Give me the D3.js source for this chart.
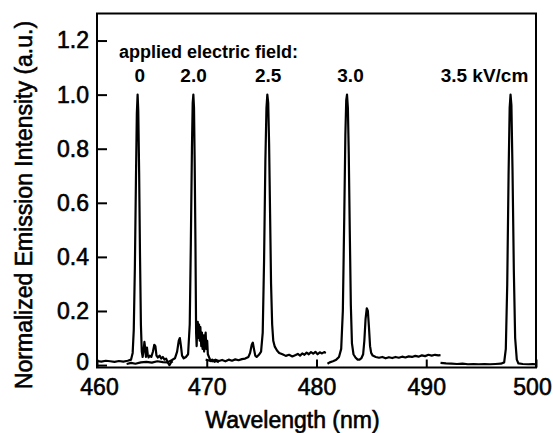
<!DOCTYPE html>
<html>
<head>
<meta charset="utf-8">
<script src="https://cdn.jsdelivr.net/npm/d3@7"></script>
<style>
  html, body { margin: 0; padding: 0; background: #fff; }
  svg { display: block; font-family: "Liberation Sans", Arial, sans-serif; }
  .heavy { stroke: #000; stroke-width: 0.6px; paint-order: stroke; }
</style>
</head>
<body>
<svg id="chart" width="553" height="433"></svg>
<script>
// Emission spectra, normalized, for each applied electric field (kV/cm).
// Each record is [wavelength (nm), normalized intensity].
const spectrum0 = [
  [460.0,0.015],[460.4,0.013],[460.8,0.016],[461.2,0.014],[461.6,0.012],[462.0,0.015],
  [462.4,0.013],[462.8,0.016],[463.1,0.02],[463.25,0.045],[463.35,0.13],[463.45,0.36],
  [463.55,0.69],[463.63,0.93],[463.7,1.0],[463.76,0.94],[463.84,0.71],[463.92,0.4],
  [464.0,0.15],[464.08,0.05],[464.16,0.03],[464.25,0.055],[464.32,0.086],[464.4,0.06],
  [464.46,0.03],[464.55,0.065],[464.62,0.04],[464.7,0.028],[464.8,0.035],[464.95,0.03],
  [465.1,0.05],[465.22,0.075],[465.32,0.07],[465.42,0.035],[465.55,0.028],[465.7,0.035],
  [465.85,0.024],[466.0,0.03],[466.15,0.02],[466.3,0.024],[466.45,0.01],[466.6,0.0],
  [466.75,0.01],[466.9,0.014]
];
const spectrum20 = [
  [462.7,0.004],[463.1,0.008],[463.5,0.005],[464.0,0.01],[464.5,0.012],[465.0,0.009],
  [465.5,0.014],[466.0,0.011],[466.4,0.01],[466.8,0.018],[467.1,0.025],[467.3,0.05],
  [467.45,0.09],[467.55,0.1],[467.65,0.07],[467.75,0.035],[467.9,0.025],[468.1,0.03],
  [468.3,0.04],[468.45,0.15],[468.55,0.45],[468.65,0.8],[468.72,0.97],[468.78,1.0],
  [468.84,0.95],[468.9,0.75],[468.97,0.45],[469.03,0.12],[469.08,0.07],[469.12,0.13],
  [469.18,0.16],[469.24,0.1],[469.3,0.15],[469.36,0.09],[469.42,0.14],[469.5,0.07],
  [469.56,0.12],[469.62,0.06],[469.7,0.11],[469.76,0.05],[469.84,0.1],[469.9,0.12],
  [469.96,0.06],[470.04,0.09],[470.1,0.04],[470.2,0.03],[470.35,0.015],[470.5,0.02],
  [470.7,0.012],[470.9,0.015],[471.1,0.01]
];
const spectrum25 = [
  [469.9,0.02],[470.2,0.017],[470.5,0.014],[470.8,0.02],[471.1,0.015],[471.4,0.019],
  [471.7,0.014],[472.0,0.02],[472.3,0.016],[472.6,0.021],[472.9,0.018],[473.2,0.022],
  [473.5,0.024],[473.8,0.03],[473.95,0.045],[474.1,0.075],[474.2,0.083],[474.3,0.06],
  [474.42,0.035],[474.55,0.03],[474.75,0.038],[474.95,0.05],[475.1,0.12],[475.22,0.38],
  [475.34,0.75],[475.44,0.95],[475.52,1.0],[475.6,0.97],[475.68,0.82],[475.77,0.56],
  [475.86,0.3],[475.96,0.15],[476.06,0.09],[476.2,0.068],[476.4,0.054],[476.6,0.045],
  [476.9,0.04],[477.2,0.034],[477.5,0.038],[477.8,0.032],[478.1,0.037],[478.3,0.041],
  [478.5,0.035],[478.7,0.043],[478.9,0.038],[479.1,0.046],[479.3,0.04],[479.5,0.048],
  [479.7,0.042],[479.9,0.049],[480.1,0.04],[480.3,0.047],[480.5,0.043],[480.7,0.048],
  [480.85,0.045]
];
const spectrum30 = [
  [481.0,0.005],[481.2,0.01],[481.5,0.014],[481.8,0.02],[482.05,0.03],[482.25,0.06],
  [482.4,0.2],[482.53,0.55],[482.63,0.85],[482.71,0.98],[482.78,1.0],[482.86,0.95],
  [482.94,0.78],[483.03,0.5],[483.13,0.22],[483.23,0.08],[483.37,0.04],[483.55,0.028],
  [483.75,0.02],[483.92,0.02],[484.1,0.026],[484.25,0.04],[484.36,0.09],[484.47,0.17],
  [484.58,0.21],[484.68,0.2],[484.78,0.14],[484.88,0.07],[484.98,0.045],[485.12,0.035],
  [485.4,0.03],[485.7,0.027],[486.0,0.03],[486.3,0.025],[486.6,0.029],[486.9,0.026],
  [487.2,0.03],[487.5,0.027],[487.8,0.031],[488.1,0.028],[488.4,0.032],[488.7,0.03],
  [489.0,0.034],[489.3,0.031],[489.6,0.036],[489.9,0.033],[490.2,0.038],[490.5,0.035],
  [490.8,0.038],[491.1,0.036],[491.3,0.037]
];
const spectrum35 = [
  [491.3,0.008],[491.8,0.006],[492.3,0.005],[492.8,0.004],[493.3,0.005],[493.8,0.003],
  [494.3,0.004],[494.8,0.003],[495.3,0.004],[495.8,0.003],[496.3,0.004],[496.8,0.005],
  [497.1,0.01],[497.25,0.06],[497.38,0.3],[497.5,0.7],[497.6,0.95],[497.68,1.0],
  [497.76,0.96],[497.86,0.72],[497.98,0.35],[498.1,0.1],[498.25,0.02],[498.4,0.006],
  [498.8,0.004],[499.3,0.003],[499.7,0.004],[500.0,0.003]
];
const spectra = [spectrum0, spectrum20, spectrum25, spectrum30, spectrum35];

// Field labels and where they sit along the wavelength axis
const fieldLabels = ["0", "2.0", "2.5", "3.0"];
const fieldLabelX = [463.9, 468.8, 475.6, 483.1];
const lastFieldLabel = "3.5 kV/cm";
const lastFieldLabelEnd = 499.3;
const annotationTitle = "applied electric field:";

const xTicks = [460, 470, 480, 490, 500];
const yTicks = [0, 0.2, 0.4, 0.6, 0.8, 1.0, 1.2];
const yTickLabels = ["0", "0.2", "0.4", "0.6", "0.8", "1.0", "1.2"];

const xTitle = "Wavelength (nm)";
const yTitle = "Normalized Emission Intensity (a.u.)";

const W = 553, H = 433;
const margin = { left: 97, right: 17, top: 13.5, bottom: 65.5 };
const iw = W - margin.left - margin.right;
const ih = H - margin.top - margin.bottom;

const svg = d3.select("#chart");
const g = svg.append("g").attr("transform", `translate(${margin.left},${margin.top})`);

const x = d3.scaleLinear().domain([460, 500]).range([0, iw]);
const y = d3.scaleLinear().domain([-0.009, 1.3]).range([ih, 0]);

const tickFont = "23px";

// Bottom axis: ticks point into the plot
const xAxis = g.append("g")
  .attr("transform", `translate(0,${ih})`)
  .call(d3.axisBottom(x).tickValues(xTicks).tickFormat(d3.format("d"))
    .tickSizeInner(-8).tickSizeOuter(0).tickPadding(11));
xAxis.select(".domain").remove();
xAxis.selectAll("line").attr("stroke", "#000").attr("stroke-width", 2);
xAxis.selectAll("text").attr("font-size", tickFont).attr("fill", "#000")
  .attr("class", "heavy")
  .attr("dx", d => d === 500 ? -4 : (d === 460 ? 2 : 0));

// Left axis
const yAxis = g.append("g")
  .call(d3.axisLeft(y).tickValues(yTicks).tickFormat((d, i) => yTickLabels[i])
    .tickSizeInner(-10).tickSizeOuter(0).tickPadding(8));
yAxis.select(".domain").remove();
yAxis.selectAll("line").attr("stroke", "#000").attr("stroke-width", 2);
yAxis.selectAll("text").attr("font-size", tickFont).attr("fill", "#000")
  .attr("class", "heavy")
  .attr("dy", d => d === 0 ? "0.2em" : "0.32em");

// Spectra
const line = d3.line().x(d => x(d[0])).y(d => y(d[1]));
g.append("g").selectAll("path").data(spectra).join("path")
  .attr("d", line)
  .attr("fill", "none")
  .attr("stroke", "#000")
  .attr("stroke-width", 2.2)
  .attr("stroke-linejoin", "round");

// Plot frame
g.append("rect")
  .attr("x", 0).attr("y", 0).attr("width", iw).attr("height", ih)
  .attr("fill", "none").attr("stroke", "#000").attr("stroke-width", 2);

// Field annotations
g.append("text")
  .attr("x", x(462.0)).attr("y", y(1.137))
  .attr("font-size", "18px").attr("font-weight", "bold")
  .text(annotationTitle);

g.append("g").selectAll("text").data(fieldLabels).join("text")
  .attr("x", (d, i) => x(fieldLabelX[i]))
  .attr("y", y(1.048))
  .attr("text-anchor", "middle")
  .attr("font-size", "19px").attr("font-weight", "bold")
  .text(d => d);

g.append("text")
  .attr("x", x(lastFieldLabelEnd)).attr("y", y(1.048))
  .attr("text-anchor", "end")
  .attr("font-size", "19px").attr("font-weight", "bold")
  .text(lastFieldLabel);

// Axis titles
svg.append("text")
  .attr("x", margin.left + iw / 2 - 24).attr("y", 428)
  .attr("text-anchor", "middle").attr("font-size", "23px")
  .attr("class", "heavy")
  .text(xTitle);

svg.append("text")
  .attr("transform", "translate(32,205) rotate(-90)")
  .attr("text-anchor", "middle").attr("font-size", "23px")
  .attr("class", "heavy")
  .text(yTitle);
</script>
</body>
</html>
